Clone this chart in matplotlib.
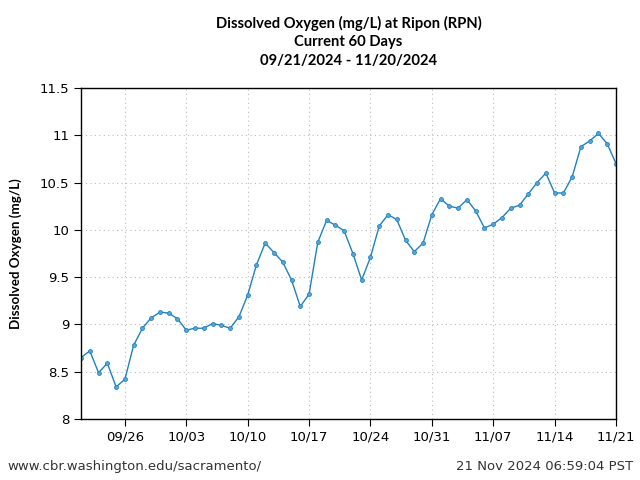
import numpy as np
import pandas as pd
import matplotlib
matplotlib.use("Agg")
import matplotlib.pyplot as plt
import matplotlib.dates as mdates

# Daily dissolved oxygen readings, 09/21/2024 .. 11/21/2024
start_date = "2024-09-21"
do_values = [
    8.65, 8.72, 8.49, 8.59, 8.34, 8.42, 8.78, 8.96, 9.07, 9.13,
    9.12, 9.06, 8.94, 8.96, 8.96, 9.01, 8.99, 8.96, 9.08, 9.31,
    9.63, 9.86, 9.76, 9.66, 9.47, 9.19, 9.32, 9.87, 10.10, 10.05,
    9.99, 9.75, 9.47, 9.71, 10.04, 10.16, 10.11, 9.89, 9.77, 9.86,
    10.16, 10.33, 10.25, 10.23, 10.32, 10.20, 10.02, 10.06, 10.13, 10.23,
    10.26, 10.38, 10.50, 10.60, 10.39, 10.39, 10.56, 10.88, 10.94, 11.02,
    10.91, 10.70,
]
dates = pd.date_range(start_date, periods=len(do_values), freq="D")

y_ticks = [8, 8.5, 9, 9.5, 10, 10.5, 11, 11.5]
y_tick_labels = ["8", "8.5", "9", "9.5", "10", "10.5", "11", "11.5"]
x_ticks = pd.date_range("2024-09-26", "2024-11-21", freq="7D")

title = "Dissolved Oxygen (mg/L) at Ripon (RPN)\nCurrent 60 Days\n09/21/2024 - 11/20/2024"
ylabel = "Dissolved Oxygen (mg/L)"
footer_left = "www.cbr.washington.edu/sacramento/"
footer_right = "21 Nov 2024 06:59:04 PST"

line_color = "#1f82c0"
head_font = ["Lato", "DejaVu Sans"]

fig = plt.figure(figsize=(6.4, 4.8), dpi=100)
ax = fig.add_axes([0.1266, 0.127, 0.8359, 0.6897])

ax.plot(dates, do_values, color=line_color, linewidth=1.0,
        marker="o", markersize=2.8, markerfacecolor="#5aa6d6",
        markeredgecolor=line_color, markeredgewidth=0.6)

ax.set_xlim(pd.Timestamp("2024-09-21"), pd.Timestamp("2024-11-21"))
ax.set_ylim(8, 11.5)
ax.set_yticks(y_ticks)
ax.set_yticklabels(y_tick_labels)
ax.set_xticks(x_ticks)
ax.xaxis.set_major_formatter(mdates.DateFormatter("%m/%d"))

ax.grid(True, linestyle=(0, (1, 3)), color="#bbbbbb", linewidth=0.8)
ax.tick_params(axis="both", direction="out", length=5, labelsize=9.5, colors="black")
for s in ax.spines.values():
    s.set_linewidth(1.0)
    s.set_color("black")

ax.set_ylabel(ylabel, fontsize=9.6, fontweight="bold", family=head_font, labelpad=13)

fig.text(0.5445, 0.913, title, ha="center", va="center", fontsize=10.6,
         fontweight="bold", family=head_font, linespacing=1.4)

fig.text(0.011, 0.028, footer_left, ha="left", va="center", fontsize=9.5, color="#333333")
fig.text(0.99, 0.028, footer_right, ha="right", va="center", fontsize=9.5, color="#333333")

fig.savefig("out.png", dpi=100)
